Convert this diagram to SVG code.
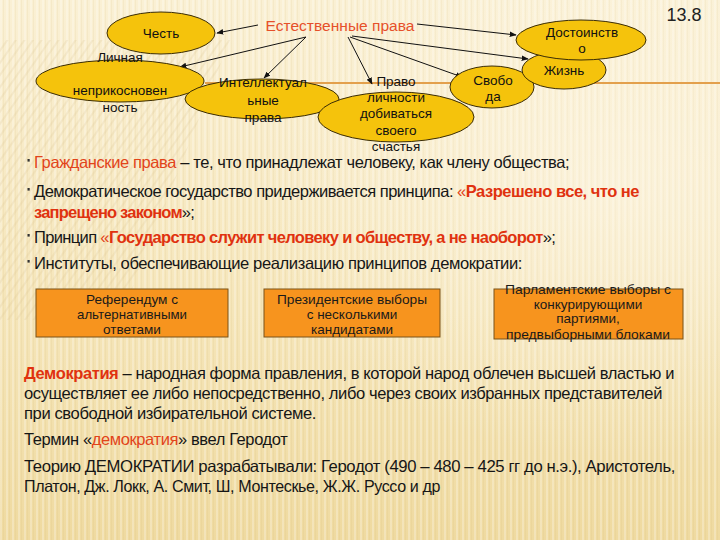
<svg xmlns="http://www.w3.org/2000/svg" width="720" height="540" viewBox="0 0 720 540">
<defs>
  <linearGradient id="bg" x1="0" y1="0" x2="0" y2="1">
    <stop offset="0" stop-color="#faf0d4"/>
    <stop offset="0.5" stop-color="#f6e7bd"/>
    <stop offset="1" stop-color="#efdaa0"/>
  </linearGradient>
  <radialGradient id="glow" cx="0.85" cy="0.35" r="0.5">
    <stop offset="0" stop-color="#fffaf0" stop-opacity="0.5"/>
    <stop offset="1" stop-color="#fffaf0" stop-opacity="0"/>
  </radialGradient>
  <pattern id="vstripes" width="6" height="10" patternUnits="userSpaceOnUse">
    <rect x="0" y="0" width="2" height="10" fill="#ffffff" fill-opacity="0.25"/>
    <rect x="3" y="0" width="1" height="10" fill="#c9a860" fill-opacity="0.1"/>
  </pattern>
  <pattern id="dstripes" width="7" height="7" patternUnits="userSpaceOnUse" patternTransform="rotate(35)">
    <rect x="0" y="0" width="2" height="7" fill="#d9c08a" fill-opacity="0.25"/>
  </pattern>
  <marker id="arr" viewBox="0 0 10 10" refX="9" refY="5" markerWidth="7" markerHeight="7" orient="auto" markerUnits="userSpaceOnUse">
    <path d="M0,1 L10,5 L0,9 z" fill="#111"/>
  </marker>
  <style>
    .ell { fill:#f5c30c; stroke:#3a2c05; stroke-width:1; }
    .lbl { font-family:"Liberation Sans", Arial, sans-serif; font-size:13.5px; fill:#111; text-anchor:middle; }
    .box { fill:#f7941e; stroke:#7a5318; stroke-width:1; }
    .btx { font-family:"Liberation Sans", Arial, sans-serif; font-size:13.5px; fill:#1a1a1a; text-anchor:middle; }
    .body { font-family:"Liberation Sans", Arial, sans-serif; font-size:16.5px; fill:#161616; letter-spacing:-0.4px; }
    .red { fill:#e2441a; }
    .redb { fill:#e0320f; font-weight:bold; }
    .conn line { stroke:#111; stroke-width:1; marker-end:url(#arr); }
  </style>
</defs>

<rect width="720" height="540" fill="url(#bg)"/>
<rect width="720" height="540" fill="url(#vstripes)"/>
<path d="M0,40 L230,40 L120,320 L0,320 z" fill="url(#dstripes)" opacity="0.8"/>
<rect width="720" height="540" fill="url(#glow)"/>

<line x1="205" y1="83" x2="720" y2="83" stroke="#e3a04c" stroke-width="2"/>

<text x="684" y="21" font-family="Liberation Sans, Arial, sans-serif" font-size="18" fill="#222" text-anchor="middle">13.8</text>

<g id="hub">
  <text x="340" y="31" font-family="Liberation Sans, Arial, sans-serif" font-size="15.5" fill="#e6502a" text-anchor="middle" textLength="149" lengthAdjust="spacingAndGlyphs">Естественные права</text>
</g>

<g class="conn" id="connectors">
  <line x1="258" y1="25" x2="217" y2="33"/>
  <line x1="306" y1="37" x2="180" y2="67"/>
  <line x1="306" y1="37" x2="264" y2="78"/>
  <line x1="348" y1="37" x2="372" y2="84"/>
  <line x1="350" y1="37" x2="462" y2="77"/>
  <line x1="352" y1="36" x2="528" y2="59"/>
  <line x1="417" y1="24" x2="516" y2="35"/>
</g>

<g id="node-chest"><ellipse class="ell" cx="161" cy="33" rx="54" ry="21"/></g>
<g id="node-lichnaya"><ellipse class="ell" cx="120" cy="81" rx="84" ry="21"/></g>
<g id="node-intellekt"><ellipse class="ell" cx="262" cy="99" rx="77" ry="20"/></g>
<g id="node-pravo"><ellipse class="ell" cx="396" cy="117" rx="78" ry="25"/></g>
<g id="node-svoboda"><ellipse class="ell" cx="492" cy="87" rx="42" ry="21"/></g>
<g id="node-zhizn"><ellipse class="ell" cx="564" cy="70" rx="42" ry="19"/></g>
<g id="node-dostoinstvo"><ellipse class="ell" cx="581" cy="40" rx="65" ry="20"/></g>

<g id="labels">
  <text class="lbl" x="161" y="38">Честь</text>
  <text class="lbl" x="120" y="61.5">Личная</text>
  <text class="lbl" x="120" y="94.5">неприкосновен</text>
  <text class="lbl" x="120" y="111.5">ность</text>
  <text class="lbl" x="263" y="86.5">Интеллектуал</text>
  <text class="lbl" x="263" y="104.5">ьные</text>
  <text class="lbl" x="263" y="121.5">права</text>
  <text class="lbl" x="396" y="85.5">Право</text>
  <text class="lbl" x="396" y="102">личности</text>
  <text class="lbl" x="396" y="118">добиваться</text>
  <text class="lbl" x="396" y="134.5">своего</text>
  <text class="lbl" x="396" y="151">счастья</text>
  <text class="lbl" x="493" y="84.5">Свобо</text>
  <text class="lbl" x="493" y="100.5">да</text>
  <text class="lbl" x="564" y="74.5">Жизнь</text>
  <text class="lbl" x="582" y="36.5">Достоинств</text>
  <text class="lbl" x="582" y="52.5">о</text>
</g>

<g id="bullets">
  <rect x="27.5" y="159" width="2.2" height="2.6" fill="#333"/>
  <rect x="27.5" y="188" width="2.2" height="2.6" fill="#333"/>
  <rect x="27.5" y="234" width="2.2" height="2.6" fill="#333"/>
  <rect x="27.5" y="260" width="2.2" height="2.6" fill="#333"/>

  <text class="body" x="34" y="167.5"><tspan class="red">Гражданские права</tspan> – те, что принадлежат человеку, как члену общества;</text>
  <text class="body" x="34" y="196.5" style="letter-spacing:-0.5px">Демократическое государство придерживается принципа: <tspan class="red">«</tspan><tspan class="redb">Разрешено все, что не</tspan></text>
  <text class="body" x="34" y="217.5" style="letter-spacing:-0.8px"><tspan class="redb">запрещено законом</tspan>»;</text>
  <text class="body" x="34" y="242.5" style="letter-spacing:-0.65px">Принцип <tspan class="red">«</tspan><tspan class="redb">Государство служит человеку и обществу, а не наоборот</tspan>»;</text>
  <text class="body" x="34" y="268.5" textLength="488" lengthAdjust="spacingAndGlyphs">Институты, обеспечивающие реализацию принципов демократии:</text>
</g>

<g id="box-referendum">
  <rect class="box" x="36" y="289" width="192" height="48"/>
  <text class="btx" x="132" y="303.5" textLength="92" lengthAdjust="spacingAndGlyphs">Референдум с</text>
  <text class="btx" x="132" y="318.5" textLength="110" lengthAdjust="spacingAndGlyphs">альтернативными</text>
  <text class="btx" x="132" y="333.5">ответами</text>
</g>
<g id="box-president">
  <rect class="box" x="264" y="289" width="176" height="48"/>
  <text class="btx" x="352" y="303.5" textLength="150" lengthAdjust="spacingAndGlyphs">Президентские выборы</text>
  <text class="btx" x="352" y="318.5">с несколькими</text>
  <text class="btx" x="352" y="333.5">кандидатами</text>
</g>
<g id="box-parlament">
  <rect class="box" x="494" y="289" width="189" height="50"/>
  <text class="btx" x="588" y="293.5" textLength="166" lengthAdjust="spacingAndGlyphs">Парламентские выборы с</text>
  <text class="btx" x="588" y="308.5">конкурирующими</text>
  <text class="btx" x="588" y="323">партиями,</text>
  <text class="btx" x="588" y="338.5" textLength="164" lengthAdjust="spacingAndGlyphs">предвыборными блоками</text>
</g>

<g id="definition">
  <text class="body" x="24" y="378.5"><tspan class="redb">Демократия</tspan> – народная форма правления, в которой народ облечен высшей властью и</text>
  <text class="body" x="24" y="398.5" textLength="638" lengthAdjust="spacingAndGlyphs">осуществляет ее либо непосредственно, либо через своих избранных представителей</text>
  <text class="body" x="24" y="418.5" textLength="292" lengthAdjust="spacingAndGlyphs">при свободной избирательной системе.</text>
  <text class="body" x="24" y="444.5">Термин «<tspan class="red">демократия</tspan>» ввел Геродот</text>
  <text class="body" x="24" y="471.5" textLength="651" lengthAdjust="spacingAndGlyphs">Теорию ДЕМОКРАТИИ разрабатывали: Геродот (490 – 480 – 425 гг до н.э.), Аристотель,</text>
  <text class="body" x="24" y="491.5" textLength="416" lengthAdjust="spacingAndGlyphs">Платон, Дж. Локк, А. Смит, Ш, Монтескье, Ж.Ж. Руссо и др</text>
</g>
</svg>
